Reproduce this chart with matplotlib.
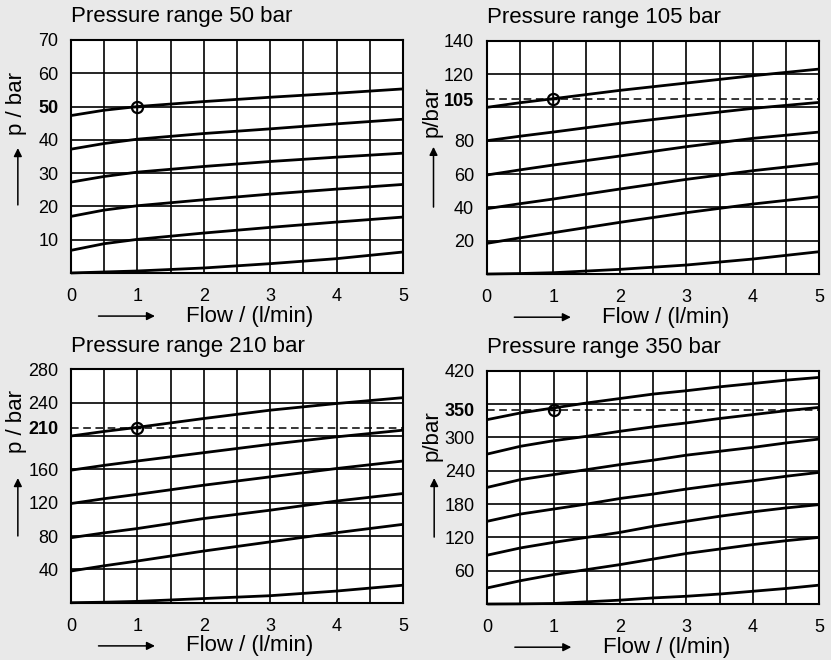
"""Pressure vs. flow characteristic curves for four pressure ranges."""
import matplotlib
matplotlib.use("Agg")
import matplotlib.pyplot as plt

plt.rcParams["font.family"] = ["Liberation Sans", "DejaVu Sans"]

BG = "#e9e9e9"

flow = [0, 0.5, 1, 2, 3, 4, 5]
flow_fine = [0, 0.5, 1, 1.5, 2, 2.5, 3, 3.5, 4, 4.5, 5]

# --- 50 bar ---------------------------------------------------------------
p50_curves = [
    [47.3, 48.9, 50.0, 51.5, 52.8, 54.0, 55.3],
    [37.2, 38.9, 40.2, 41.9, 43.3, 44.8, 46.2],
    [27.3, 29.0, 30.3, 32.0, 33.5, 34.8, 36.0],
    [17.0, 18.9, 20.2, 22.0, 23.7, 25.2, 26.6],
    [6.8, 8.8, 10.1, 12.0, 13.7, 15.3, 16.8],
    [0.0, 0.3, 0.6, 1.5, 2.8, 4.3, 6.3],
]
p50_ticks = [10, 20, 30, 40, 50, 60, 70]
p50_grid = [10, 20, 30, 40, 50, 60]

# --- 105 bar --------------------------------------------------------------
p105_curves = [
    [100.0, 102.8, 105.2, 110.2, 114.6, 119.0, 123.0],
    [80.0, 82.7, 85.2, 90.4, 95.0, 99.4, 103.0],
    [59.4, 62.5, 65.4, 70.8, 76.4, 81.4, 85.2],
    [39.2, 42.2, 45.0, 51.0, 56.8, 62.0, 66.4],
    [18.4, 21.7, 24.8, 31.0, 36.8, 42.0, 46.4],
    [0.0, 0.3, 0.8, 2.8, 5.4, 9.0, 13.4],
]
p105_ticks = [20, 40, 60, 80, 105, 120, 140]
p105_grid = [20, 40, 60, 80, 100, 120]

# --- 210 bar --------------------------------------------------------------
p210_curves = [
    [200.0, 205.5, 210.4, 221.0, 231.0, 239.0, 246.0],
    [159.0, 164.8, 170.0, 180.0, 190.0, 199.0, 207.0],
    [119.0, 124.8, 130.0, 141.0, 151.0, 161.0, 170.0],
    [78.0, 83.8, 89.0, 101.0, 111.0, 122.0, 131.0],
    [38.0, 44.3, 50.0, 62.0, 73.0, 84.0, 94.0],
    [0.0, 0.6, 1.6, 5.0, 8.4, 14.0, 21.0],
]
p210_ticks = [40, 80, 120, 160, 210, 240, 280]
p210_grid = [40, 80, 120, 160, 200, 240]

# --- 350 bar (read at every 0.5 l/min) ------------------------------------
p350_curves = [
    [332, 344, 353, 362, 370, 378, 384, 391, 397, 403, 408],
    [270, 284, 294, 302, 311, 319, 326, 334, 341, 348, 354],
    [210, 224, 233, 242, 251, 259, 268, 275, 282, 290, 297],
    [149, 162, 171, 180, 190, 198, 207, 215, 222, 230, 237],
    [88, 101, 111, 120, 129, 140, 149, 158, 166, 173, 179],
    [29, 42, 53, 62, 71, 81, 91, 99, 107, 114, 120],
    [0, 0.3, 1, 4, 7, 11, 14, 18, 23, 28, 34],
]
p350_ticks = [60, 120, 180, 240, 300, 350, 420]
p350_grid = [60, 120, 180, 240, 300, 360]

x_ticks = [0, 1, 2, 3, 4, 5]
x_grid = [0.5, 1, 1.5, 2, 2.5, 3, 3.5, 4, 4.5]

panels = [
    # title, x, curves, yticks, ygrid, ymax, nominal, dashed, ylabel, rect, label y, arrow y
    ("Pressure range 50 bar", flow, p50_curves, p50_ticks, p50_grid, 70, 50, False,
     "p / bar", [0.0854, 0.5864, 0.3995, 0.353], 0.727, (0.292, 0.536)),
    ("Pressure range 105 bar", flow, p105_curves, p105_ticks, p105_grid, 140, 105, True,
     "p/bar", [0.5857, 0.5848, 0.4002, 0.3535], 0.695, (0.287, 0.545)),
    ("Pressure range 210 bar", flow, p210_curves, p210_ticks, p210_grid, 280, 210, True,
     "p / bar", [0.0854, 0.0868, 0.3995, 0.3536], 0.776, (0.286, 0.534)),
    ("Pressure range 350 bar", flow_fine, p350_curves, p350_ticks, p350_grid, 420, 350, True,
     "p/bar", [0.5864, 0.0848, 0.3995, 0.3535], 0.72, (0.287, 0.54)),
]

fig = plt.figure(figsize=(8.31, 6.6), dpi=100, facecolor=BG)

for title, xs, curves, yticks, ygrid, ymax, nominal, dashed, ylabel, rect, ly, (a0, a1) in panels:
    ax = fig.add_axes(rect)
    ax.set_facecolor("white")
    ax.set_xlim(0, 5)
    ax.set_ylim(0, ymax)

    for g in x_grid:
        ax.axvline(g, color="black", lw=1.2, zorder=1)
    for g in ygrid:
        ax.axhline(g, color="black", lw=1.2, zorder=1)

    for c in curves:
        ax.plot(xs, c, color="black", lw=2.0, zorder=3, clip_on=False,
                solid_capstyle="butt", solid_joinstyle="round")

    if dashed:
        ax.axhline(nominal, color="black", lw=1.1, ls=(0, (5, 3)), zorder=2)
    ax.plot([1], [nominal], marker="o", ms=8, mfc="none", mec="black", mew=1.6, zorder=4)
    ax.plot([1], [nominal], marker="+", ms=6, color="black", mew=1.0, zorder=4)

    for s in ax.spines.values():
        s.set_linewidth(1.5)
        s.set_color("black")

    ax.set_xticks(x_ticks)
    ax.set_yticks(yticks)
    ax.set_yticklabels([str(t) for t in yticks])
    for t, lab in zip(yticks, ax.get_yticklabels()):
        if t == nominal:
            lab.set_fontweight("bold")
            lab.set_fontsize(12.5)
    ax.tick_params(length=0, labelsize=13, colors="black")
    ax.tick_params(axis="x", pad=11)
    ax.tick_params(axis="y", pad=9)

    ax.text(0, 1.099, title, transform=ax.transAxes, ha="left", va="center",
            fontsize=16)

    ax.text(-0.165, ly, ylabel, transform=ax.transAxes, rotation=90,
            ha="center", va="center", fontsize=16)
    ax.annotate("", xy=(-0.16, a1), xytext=(-0.16, a0),
                xycoords="axes fraction", textcoords="axes fraction",
                annotation_clip=False,
                arrowprops=dict(arrowstyle="-|>", color="black", lw=1.1,
                                mutation_scale=12, shrinkA=0, shrinkB=0))

    ax.text(0.539, -0.185, "Flow / (l/min)", transform=ax.transAxes,
            ha="center", va="center", fontsize=16)
    ax.annotate("", xy=(0.253, -0.185), xytext=(0.083, -0.185),
                xycoords="axes fraction", textcoords="axes fraction",
                annotation_clip=False,
                arrowprops=dict(arrowstyle="-|>", color="black", lw=1.1,
                                mutation_scale=12, shrinkA=0, shrinkB=0))

fig.savefig("out.png", dpi=100, facecolor=BG)
